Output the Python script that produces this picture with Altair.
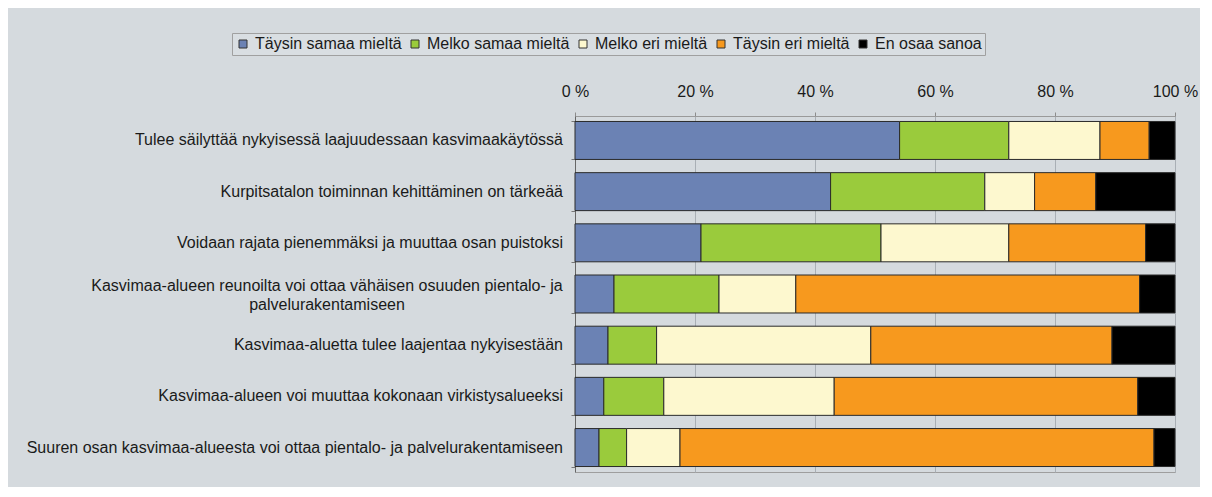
import altair as alt
import pandas as pd

statements = [
    "Tulee säilyttää nykyisessä laajuudessaan kasvimaakäytössä",
    "Kurpitsatalon toiminnan kehittäminen on tärkeää",
    "Voidaan rajata pienemmäksi ja muuttaa osan puistoksi",
    "Kasvimaa-alueen reunoilta voi ottaa vähäisen osuuden pientalo- ja|palvelurakentamiseen",
    "Kasvimaa-aluetta tulee laajentaa nykyisestään",
    "Kasvimaa-alueen voi muuttaa kokonaan virkistysalueeksi",
    "Suuren osan kasvimaa-alueesta voi ottaa pientalo- ja palvelurakentamiseen",
]
responses = ["Täysin samaa mieltä", "Melko samaa mieltä", "Melko eri mieltä",
             "Täysin eri mieltä", "En osaa sanoa"]
colors = ["#6b82b4", "#9acb3c", "#fdf8cf", "#f7991e", "#000000"]

taysin_samaa = [54.1, 42.6, 21.0, 6.5, 5.5, 4.8, 4.0]
melko_samaa = [18.2, 25.7, 30.0, 17.5, 8.1, 10.0, 4.6]
melko_eri = [15.2, 8.3, 21.3, 12.8, 35.7, 28.4, 8.9]
taysin_eri = [8.2, 10.2, 22.8, 57.3, 40.2, 50.6, 79.0]
en_osaa = [4.3, 13.2, 4.9, 5.9, 10.5, 6.2, 3.5]
x_ticks = [0, 20, 40, 60, 80, 100]

series = [taysin_samaa, melko_samaa, melko_eri, taysin_eri, en_osaa]
rows = []
for k, (resp, vals) in enumerate(zip(responses, series)):
    for s, v in zip(statements, vals):
        rows.append({"statement": s, "response": resp, "idx": k, "value": v})
df = pd.DataFrame(rows)
labels_df = pd.DataFrame({"statement": statements})

FONT = "Liberation Sans"
y_enc = alt.Y("statement:N", sort=statements, title=None,
              scale=alt.Scale(domain=statements, paddingInner=0.258, paddingOuter=0.107),
              axis=alt.Axis(orient="left", labels=False,
                            tickBand="extent", tickSize=4, tickColor="#777777",
                            domainColor="#666666", grid=False))

bars = alt.Chart(df).mark_bar(stroke="#2a2a2a", strokeWidth=1).encode(
    x=alt.X("value:Q", stack="zero",
            scale=alt.Scale(domain=[0, 100], nice=False),
            axis=alt.Axis(orient="top", values=x_ticks, title=None,
                          labelExpr="datum.value + ' %'",
                          labelFlush=False,
                          labelFontSize=16, labelColor="#1a1a1a",
                          labelFont=FONT,
                          tickSize=4, tickColor="#8c8c8c",
                          labelPadding=13,
                          domainColor="#9a9a9a",
                          grid=True, gridColor="#a9afb5", gridWidth=1)),
    y=y_enc,
    color=alt.Color("response:N", sort=responses,
                    scale=alt.Scale(domain=responses, range=colors),
                    legend=alt.Legend(title=None, orient="none",
                                      legendX=-343, legendY=-83,
                                      direction="horizontal", columns=5,
                                      symbolType="square", symbolSize=64,
                                      symbolStrokeColor="#333333",
                                      symbolStrokeWidth=1,
                                      labelFontSize=16, labelFont=FONT,
                                      labelColor="#1a1a1a",
                                      labelOffset=4, columnPadding=5,
                                      padding=3,
                                      strokeColor="#a0a0a0",
                                      fillColor="#d9dee2")),
    order=alt.Order("idx:Q"),
)

single_labels = alt.Chart(labels_df).transform_filter(
    "indexof(datum.statement, '|') < 0"
).mark_text(align="right", baseline="middle", font=FONT, fontSize=16,
            color="#1a1a1a").encode(
    y=alt.Y("statement:N", sort=statements),
    x=alt.value(-12),
    text="statement:N",
)

multi_labels = alt.Chart(labels_df).transform_filter(
    "indexof(datum.statement, '|') >= 0"
).transform_calculate(
    lines="split(datum.statement, '|')"
).mark_text(align="center", baseline="middle", font=FONT, fontSize=16,
            lineHeight=19, dy=-8, color="#1a1a1a").encode(
    y=alt.Y("statement:N", sort=statements),
    x=alt.value(-248),
    text="lines:N",
)

chart = alt.layer(bars, single_labels, multi_labels).properties(
    width=600, height=356,
    background="#d5dade",
    padding={"left": 567, "top": 108, "right": 25, "bottom": 15},
    autosize=alt.AutoSizeParams(type="none"),
).configure_view(stroke="#9e9e9e", strokeWidth=1)

chart.save("out.html", embed_options={"renderer": "svg", "actions": False})
